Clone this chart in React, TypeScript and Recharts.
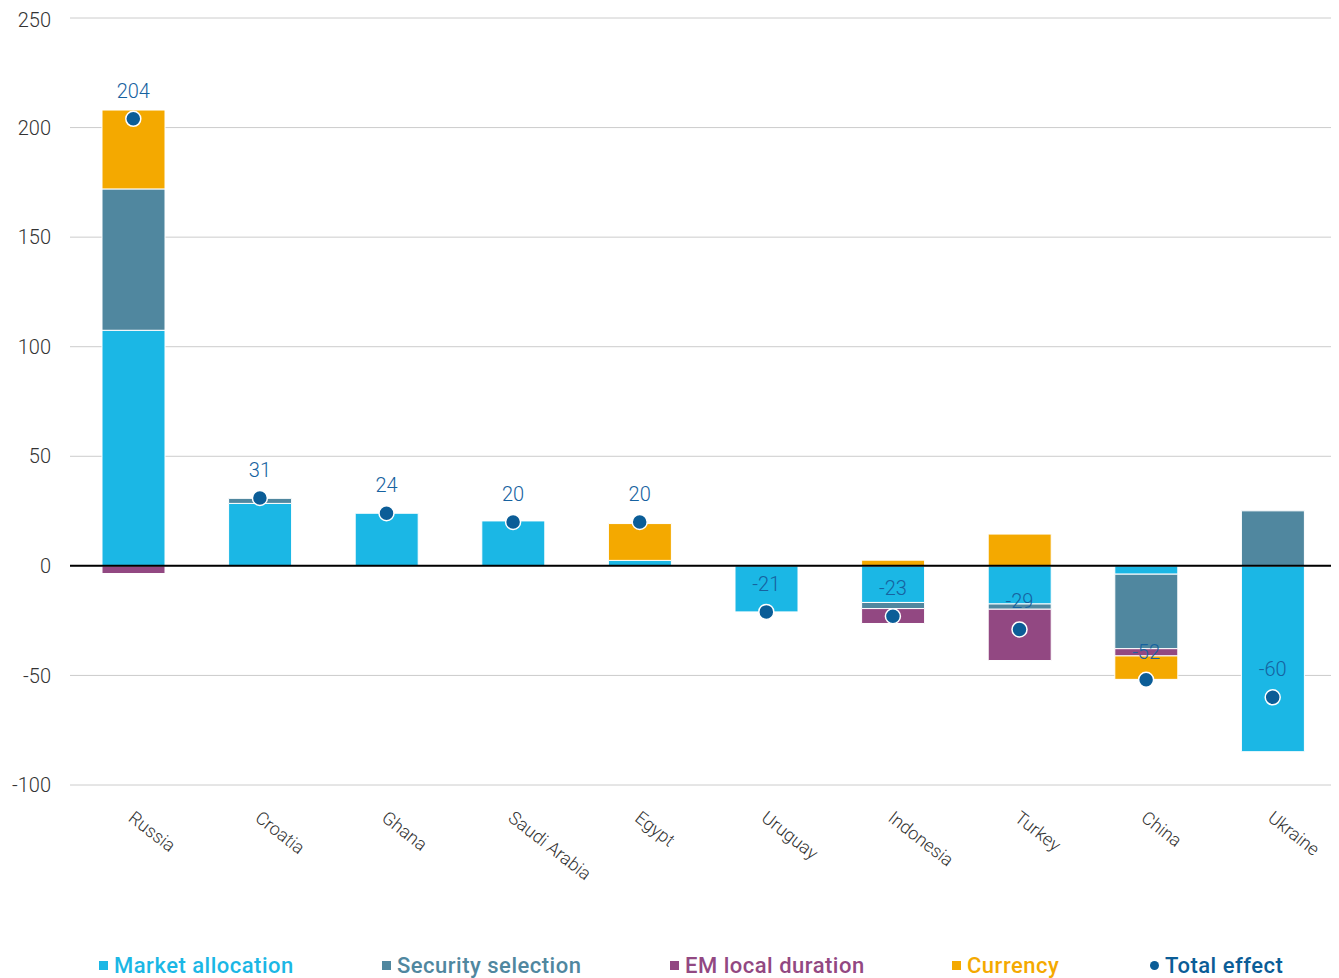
import React from "react"
import {
  Bar,
  ComposedChart,
  Line,
  XAxis,
  YAxis,
  CartesianGrid,
  ReferenceLine,
  LabelList,
  Legend,
} from "recharts"

const countries = ["Russia", "Croatia", "Ghana", "Saudi Arabia", "Egypt", "Uruguay", "Indonesia", "Turkey", "China", "Ukraine"]
const marketAllocation = [107.5, 28.5, 24, 20.5, 2.5, -21, -16.7, -17.4, -3.8, -84.8]
const securitySelection = [64.5, 2.3, 0, 0, 0, 0, -2.8, -2.4, -34, 25.1]
const emLocalDuration = [-3.5, 0, 0, 0, 0, 0, -6.8, -23.4, -3.3, 0]
const currency = [36, 0, 0, 0, 16.8, 0, 2.6, 14.5, -10.7, 0]
const totalEffect = [204, 31, 24, 20, 20, -21, -23, -29, -52, -60]
const yTicks = [-100, -50, 0, 50, 100, 150, 200, 250]

const data = countries.map((name, i) => ({
  name,
  market: marketAllocation[i],
  security: securitySelection[i],
  duration: emLocalDuration[i],
  currency: currency[i],
  total: totalEffect[i],
}))

const FONT = "Roboto, 'Liberation Sans', sans-serif"

const colors = {
  market: "#1bb7e5",
  security: "#50879f",
  duration: "#924882",
  currency: "#f4a900",
  total: "#0b5d97",
}

const legendItems = [
  { label: "Market allocation", color: colors.market, left: 91, shape: "square" },
  { label: "Security selection", color: colors.security, left: 374, shape: "square" },
  { label: "EM local duration", color: colors.duration, left: 662, shape: "square" },
  { label: "Currency", color: colors.currency, left: 944, shape: "square" },
  { label: "Total effect", color: colors.total, left: 1142, shape: "circle" },
]

function CategoryTick(props: any) {
  const { x, y, payload } = props
  return (
    <text
      transform={`translate(${x - 6},${y + 27}) rotate(38)`}
      textAnchor="start"
      fontFamily={FONT}
      fontSize={18}
      fontWeight={300}
      fill="#333"
    >
      {payload.value}
    </text>
  )
}

function TotalDot(props: any) {
  const { cx, cy } = props
  if (cx == null || cy == null) return null
  return <circle cx={cx} cy={cy} r={7.5} fill={colors.total} stroke="#fff" strokeWidth={1.5} />
}

function TotalLabel(props: any) {
  const { x, y, value } = props
  return (
    <text x={x} y={y - 21} textAnchor="middle" fontFamily={FONT} fontSize={20} fontWeight={300} fill="#1662a0">
      {value}
    </text>
  )
}

function ChartLegend() {
  return (
    <div style={{ position: "relative", width: 1331, height: 40, fontFamily: FONT }}>
      {legendItems.map((item) => (
        <div
          key={item.label}
          style={{
            position: "absolute",
            left: item.left,
            top: 15,
            height: 24,
            display: "flex",
            alignItems: "center",
            whiteSpace: "nowrap",
          }}
        >
          <span
            style={{
              display: "inline-block",
              width: 9,
              height: 9,
              background: item.color,
              borderRadius: item.shape === "circle" ? "50%" : 0,
              marginRight: 6,
            }}
          />
          <span style={{ color: item.color, fontSize: 22, fontWeight: 500, letterSpacing: 0.5 }}>{item.label}</span>
        </div>
      ))}
    </div>
  )
}

export default function App() {
  return (
    <ComposedChart
      width={1331}
      height={970}
      data={data}
      stackOffset="sign"
      margin={{ top: 10, right: 3, left: 0, bottom: 0 }}
    >
      <CartesianGrid vertical={false} stroke="#cccccc" />
      <XAxis
        dataKey="name"
        axisLine={false}
        tickLine={false}
        height={153}
        interval={0}
        tick={<CategoryTick />}
      />
      <YAxis
        width={62}
        domain={[-100, 250]}
        ticks={yTicks}
        axisLine={false}
        tickLine={false}
        tickMargin={13}
        tick={{ fontFamily: FONT, fontSize: 20, fill: "#333", fontWeight: 300 }}
      />
      <Legend verticalAlign="bottom" content={() => <ChartLegend />} />
      <Bar dataKey="market" stackId="a" fill={colors.market} stroke="#fff" strokeWidth={1} barSize={63} isAnimationActive={false} />
      <Bar dataKey="security" stackId="a" fill={colors.security} stroke="#fff" strokeWidth={1} barSize={63} isAnimationActive={false} />
      <Bar dataKey="duration" stackId="a" fill={colors.duration} stroke="#fff" strokeWidth={1} barSize={63} isAnimationActive={false} />
      <Bar dataKey="currency" stackId="a" fill={colors.currency} stroke="#fff" strokeWidth={1} barSize={63} isAnimationActive={false} />
      <ReferenceLine y={0} stroke="#000" strokeWidth={2} />
      <Line
        dataKey="total"
        stroke="none"
        dot={<TotalDot />}
        activeDot={false}
        legendType="none"
        isAnimationActive={false}
      >
        <LabelList dataKey="total" content={<TotalLabel />} />
      </Line>
    </ComposedChart>
  )
}
